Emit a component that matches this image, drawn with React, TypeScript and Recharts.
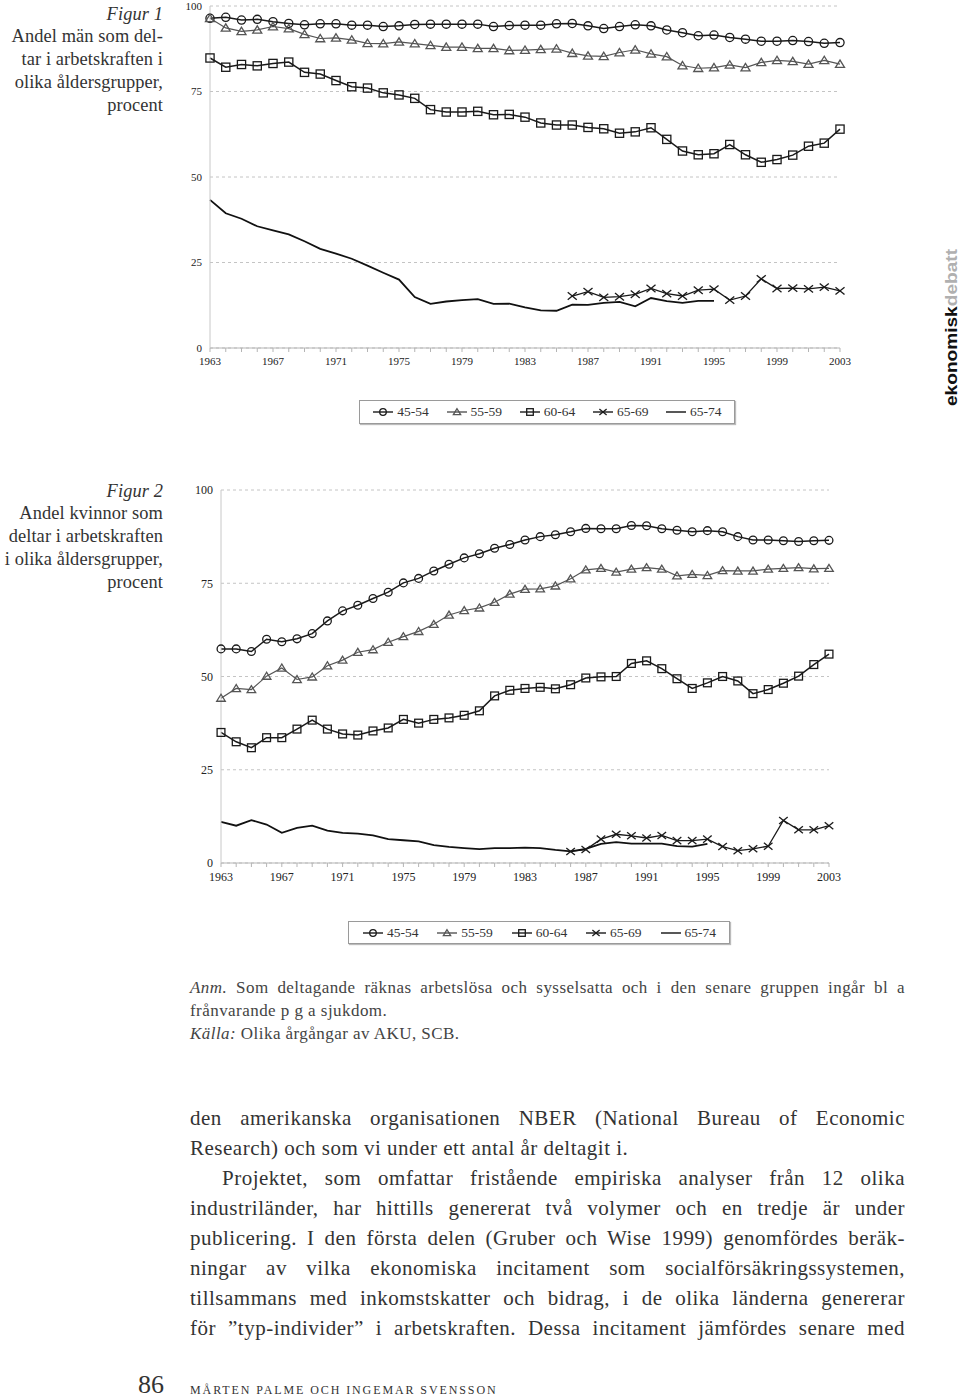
import React from 'react';
import { LineChart, Line, XAxis, YAxis, CartesianGrid } from 'recharts';

// --- data ---
const years = [
  1963, 1964, 1965, 1966, 1967, 1968, 1969, 1970, 1971, 1972, 1973, 1974, 1975, 1976,
  1977, 1978, 1979, 1980, 1981, 1982, 1983, 1984, 1985, 1986, 1987, 1988, 1989, 1990,
  1991, 1992, 1993, 1994, 1995, 1996, 1997, 1998, 1999, 2000, 2001, 2002, 2003,
];
const yearLabels = [1963, 1967, 1971, 1975, 1979, 1983, 1987, 1991, 1995, 1999, 2003];
const yTicks = [0, 25, 50, 75, 100];
const ageGroups = ['45-54', '55-59', '60-64', '65-69', '65-74'];

// Figur 1: män
const men4554 = [
  96.4, 96.7, 95.9, 96.1, 95.4, 94.9, 94.5, 94.8, 94.8, 94.4, 94.4, 94.0, 94.2, 94.6, 94.7,
  94.7, 94.7, 94.7, 94.0, 94.3, 94.4, 94.4, 94.8, 94.9, 94.2, 93.4, 94.0, 94.5, 94.2, 93.0,
  92.2, 91.3, 91.5, 90.8, 90.3, 89.7, 89.7, 89.9, 89.6, 89.1, 89.3,
];
const men5559 = [
  96.4, 93.6, 92.6, 93.0, 94.0, 93.4, 91.7, 90.5, 90.7, 90.1, 89.1, 89.0, 89.5, 89.0, 88.5,
  88.0, 88.0, 87.6, 87.6, 87.0, 87.1, 87.3, 87.5, 86.2, 85.4, 85.3, 86.4, 87.2, 86.0, 85.2,
  82.6, 81.8, 82.0, 82.8, 82.0, 83.5, 84.1, 83.8, 83.0, 84.1, 83.0,
];
const men6064 = [
  84.8, 82.1, 82.9, 82.5, 83.2, 83.6, 80.6, 80.1, 78.2, 76.4, 76.0, 74.6, 74.0, 73.0, 69.7,
  69.0, 69.0, 69.2, 68.2, 68.3, 67.5, 65.8, 65.2, 65.2, 64.5, 64.1, 62.8, 63.2, 64.4, 61.0,
  57.6, 56.5, 56.8, 59.5, 56.5, 54.3, 55.1, 56.4, 59.0, 59.9, 64.0,
];
const men6569 = [
  null, null, null, null, null, null, null, null, null, null, null, null, null, null, null,
  null, null, null, null, null, null, null, null, 15.2, 16.5, 14.8, 15.0, 15.7, 17.4, 15.9,
  15.2, 16.9, 17.2, 14.0, 15.2, 20.2, 17.4, 17.5, 17.3, 17.8, 16.7,
];
const men6574 = [
  43.3, 39.4, 37.8, 35.6, 34.4, 33.2, 31.2, 29.0, 27.6, 26.1, 24.1, 22.0, 20.0, 14.9, 12.9,
  13.6, 14.0, 14.3, 12.9, 13.0, 11.9, 11.0, 10.9, 12.7, 12.6, 13.2, 13.5, 12.2, 14.6, 13.7,
  13.2, 13.8, 13.8, null, null, null, null, null, null, null, null,
];

// Figur 2: kvinnor
const women4554 = [
  57.4, 57.4, 56.7, 60.0, 59.3, 60.1, 61.5, 64.9, 67.6, 69.1, 70.9, 72.6, 75.1, 76.3, 78.3,
  80.1, 81.8, 82.9, 84.4, 85.4, 86.6, 87.5, 88.0, 88.8, 89.7, 89.6, 89.6, 90.5, 90.4, 89.6,
  89.2, 88.8, 89.1, 88.8, 87.5, 86.6, 86.6, 86.4, 86.2, 86.4, 86.5,
];
const women5559 = [
  44.2, 46.8, 46.5, 50.1, 52.3, 49.2, 49.9, 52.9, 54.4, 56.5, 57.2, 59.2, 60.7, 62.1, 64.0,
  66.5, 67.7, 68.4, 69.9, 72.1, 73.4, 73.5, 74.3, 76.2, 78.6, 79.0, 78.0, 78.8, 79.2, 78.8,
  77.0, 77.4, 77.1, 78.4, 78.3, 78.3, 78.8, 79.0, 79.2, 78.9, 79.0,
];
const women6064 = [
  35.0, 32.5, 30.9, 33.6, 33.6, 35.9, 38.3, 35.9, 34.6, 34.3, 35.4, 36.2, 38.5, 37.5, 38.5,
  38.9, 39.6, 40.8, 44.8, 46.3, 46.8, 47.1, 46.7, 47.8, 49.6, 49.9, 50.0, 53.5, 54.2, 52.1,
  49.4, 46.8, 48.3, 50.0, 48.8, 45.4, 46.5, 48.2, 50.1, 53.2, 56.0,
];
const women6569 = [
  null, null, null, null, null, null, null, null, null, null, null, null, null, null, null,
  null, null, null, null, null, null, null, null, 3.1, 3.6, 6.4, 7.7, 7.3, 6.7, 7.4,
  6.0, 6.0, 6.4, 4.4, 3.3, 3.8, 4.5, 11.4, 8.9, 8.9, 10.0,
];
const women6574 = [
  11.0, 10.0, 11.5, 10.3, 8.1, 9.4, 10.0, 8.7, 8.1, 7.9, 7.4, 6.4, 6.1, 5.8, 4.8,
  4.3, 4.0, 3.7, 4.0, 4.0, 4.1, 4.0, 3.5, 3.1, 3.8, 5.1, 5.6, 5.2, 5.2, 5.2,
  4.5, 4.4, 5.1, null, null, null, null, null, null, null, null,
];

type Shape = 'circle' | 'triangle' | 'square' | 'cross' | 'none';

// look of each age group, same order as ageGroups
const styles: { shape: Shape; color: string; width: number }[] = [
  { shape: 'circle', color: '#1a1a1a', width: 1.5 },
  { shape: 'triangle', color: '#555', width: 1.2 },
  { shape: 'square', color: '#1a1a1a', width: 1.5 },
  { shape: 'cross', color: '#1a1a1a', width: 1.3 },
  { shape: 'none', color: '#111', width: 1.8 },
];

const serif = '"Liberation Serif", "DejaVu Serif", serif';

const Marker = ({ cx, cy, shape, s, color }: any) => {
  const sw = 1.3;
  if (shape === 'circle') return <circle cx={cx} cy={cy} r={s} fill="none" stroke={color} strokeWidth={sw} />;
  if (shape === 'square')
    return <rect x={cx - s} y={cy - s} width={2 * s} height={2 * s} fill="none" stroke={color} strokeWidth={sw} />;
  if (shape === 'triangle')
    return (
      <polygon
        points={`${cx},${cy - s} ${cx - s * 1.1},${cy + s * 0.8} ${cx + s * 1.1},${cy + s * 0.8}`}
        fill="none"
        stroke={color}
        strokeWidth={sw}
      />
    );
  if (shape === 'cross')
    return (
      <g stroke={color} strokeWidth={sw}>
        <line x1={cx - s * 1.1} y1={cy - s * 0.9} x2={cx + s * 1.1} y2={cy + s * 0.9} />
        <line x1={cx - s * 1.1} y1={cy + s * 0.9} x2={cx + s * 1.1} y2={cy - s * 0.9} />
      </g>
    );
  return null;
};

const makeDot = (key: string, shape: Shape, s: number, color: string) => (p: any) => {
  const k = `${key}-${p.index}`;
  if (shape === 'none' || p.value == null || p.cy == null || isNaN(p.cy)) return <g key={k} />;
  return (
    <g key={k}>
      <Marker cx={p.cx} cy={p.cy} shape={shape} s={s} color={color} />
    </g>
  );
};

const YearTick = ({ x, y, payload, fontSize }: any) => {
  if (!yearLabels.includes(payload.value)) return <g />;
  return (
    <text x={x} y={y + 3} dy="0.71em" textAnchor="middle" fontFamily={serif} fontSize={fontSize} fill="#222">
      {payload.value}
    </text>
  );
};

const Chart = ({ series, width, height, margin, yWidth, xHeight, markerSize, fontSize }: any) => {
  const data = years.map((year, i) => {
    const row: any = { year };
    series.forEach((arr: (number | null)[], j: number) => {
      row['s' + j] = arr[i];
    });
    return row;
  });
  return (
    <LineChart width={width} height={height} data={data} margin={margin}>
      <CartesianGrid vertical={false} stroke="#c4c4c4" strokeDasharray="3 3" />
      <XAxis
        dataKey="year"
        type="number"
        domain={[1963, 2003]}
        ticks={years}
        interval={0}
        height={xHeight}
        stroke="#b5b5b5"
        tickSize={4}
        tick={<YearTick fontSize={fontSize} />}
      />
      <YAxis
        domain={[0, 100]}
        ticks={yTicks}
        width={yWidth}
        stroke="#c8c8c8"
        tickLine={false}
        tick={{ fontFamily: serif, fontSize, fill: '#222' }}
      />
      {series.map((_: any, j: number) => (
        <Line
          key={ageGroups[j]}
          name={ageGroups[j]}
          type="linear"
          dataKey={'s' + j}
          stroke={styles[j].color}
          strokeWidth={styles[j].width}
          dot={makeDot('d' + j, styles[j].shape, markerSize, styles[j].color)}
          activeDot={false}
          connectNulls={false}
          isAnimationActive={false}
        />
      ))}
    </LineChart>
  );
};

const LegendBox = ({ left, top, width, height }: any) => (
  <div
    style={{
      position: 'absolute',
      left,
      top,
      width,
      height,
      boxSizing: 'border-box',
      border: '1px solid #9a9a9a',
      boxShadow: '1px 1px 1px #bbb',
      display: 'flex',
      justifyContent: 'space-around',
      alignItems: 'center',
      fontFamily: serif,
      fontSize: 13.5,
      color: '#333',
      padding: '0 4px',
    }}
  >
    {ageGroups.map((g, j) => (
      <span key={g} style={{ display: 'flex', alignItems: 'center' }}>
        <svg width={22} height={12} style={{ marginRight: 3 }}>
          <line x1={1} y1={6} x2={21} y2={6} stroke={styles[j].color} strokeWidth={1.4} />
          <Marker cx={11} cy={6} shape={styles[j].shape} s={3.3} color={styles[j].color} />
        </svg>
        {g}
      </span>
    ))}
  </div>
);

const Caption = ({ top, lines }: { top: number; lines: string[] }) => (
  <div
    style={{
      position: 'absolute',
      left: 0,
      top,
      width: 163,
      textAlign: 'right',
      fontFamily: serif,
      fontSize: 18.4,
      letterSpacing: 0.1,
      lineHeight: '22.75px',
      color: '#333',
    }}
  >
    {lines.map((l, i) => (
      <div key={i} style={{ fontStyle: i === 0 ? 'italic' : 'normal', whiteSpace: 'nowrap' }}>
        {l}
      </div>
    ))}
  </div>
);

const bodyLines: { t: string; justify: boolean; indent?: number }[] = [
  { t: 'den amerikanska organisationen NBER (National Bureau of Economic', justify: true },
  { t: 'Research) och som vi under ett antal år deltagit i.', justify: false },
  { t: 'Projektet, som omfattar fristående empiriska analyser från 12 olika', justify: true, indent: 32 },
  { t: 'industriländer, har hittills genererat två volymer och en tredje är under', justify: true },
  { t: 'publicering. I den första delen (Gruber och Wise 1999) genomfördes beräk-', justify: true },
  { t: 'ningar av vilka ekonomiska incitament som socialförsäkringssystemen,', justify: true },
  { t: 'tillsammans med inkomstskatter och bidrag, i de olika länderna genererar', justify: true },
  { t: 'för ”typ-individer” i arbetskraften. Dessa incitament jämfördes senare med', justify: true },
];

export default function App() {
  return (
    <div style={{ position: 'absolute', left: 0, top: 0, width: 960, height: 1398, background: '#fff', overflow: 'hidden' }}>
      <Caption top={2.5} lines={['Figur 1', 'Andel män som del-', 'tar i arbetskraften i', 'olika åldersgrupper,', 'procent']} />
      <Caption top={479.5} lines={['Figur 2', 'Andel kvinnor som', 'deltar i arbetskraften', 'i olika åldersgrupper,', 'procent']} />

      <div style={{ position: 'absolute', left: 0, top: 0 }}>
        <Chart
          series={[men4554, men5559, men6064, men6569, men6574]}
          width={900}
          height={380}
          margin={{ top: 6, right: 60, bottom: 10, left: 180 }}
          yWidth={30}
          xHeight={22}
          markerSize={4.1}
          fontSize={11}
        />
      </div>
      <LegendBox left={359} top={400} width={376} height={24} />

      <div style={{ position: 'absolute', left: 0, top: 470 }}>
        <Chart
          series={[women4554, women5559, women6064, women6569, women6574]}
          width={900}
          height={420}
          margin={{ top: 20, right: 71, bottom: 7, left: 181 }}
          yWidth={40}
          xHeight={20}
          markerSize={3.9}
          fontSize={12}
        />
      </div>
      <LegendBox left={348} top={921} width={382} height={23} />

      <svg width={24} height={170} style={{ position: 'absolute', left: 936, top: 242 }}>
        <text
          transform="translate(21,164) rotate(-90)"
          fontFamily='"Liberation Sans", Arial, sans-serif'
          fontWeight="bold"
          fontSize={17}
          textLength={157}
          lengthAdjust="spacingAndGlyphs"
        >
          <tspan fill="#111">ekonomisk</tspan>
          <tspan fill="#b0b0b0">debatt</tspan>
        </text>
      </svg>

      <div
        style={{
          position: 'absolute',
          left: 190,
          top: 975.5,
          width: 715,
          fontFamily: serif,
          fontSize: 17,
          letterSpacing: 0.45,
          lineHeight: '23px',
          color: '#444',
        }}
      >
        <div style={{ textAlign: 'justify', textAlignLast: 'justify', whiteSpace: 'nowrap' }}>
          <i>Anm.</i> Som deltagande räknas arbetslösa och sysselsatta och i den senare gruppen ingår bl a
        </div>
        <div>frånvarande p g a sjukdom.</div>
        <div>
          <i>Källa:</i> Olika årgångar av AKU, SCB.
        </div>
      </div>

      <div
        style={{
          position: 'absolute',
          left: 190,
          top: 1103,
          width: 715,
          fontFamily: serif,
          fontSize: 21,
          letterSpacing: 0.5,
          lineHeight: '30px',
          color: '#333',
        }}
      >
        {bodyLines.map((l, i) => (
          <div
            key={i}
            style={{
              textAlign: 'justify',
              textAlignLast: l.justify ? 'justify' : 'left',
              textIndent: l.indent || 0,
              whiteSpace: 'nowrap',
            }}
          >
            {l.t}
          </div>
        ))}
      </div>

      <div style={{ position: 'absolute', left: 120, top: 1370, width: 44, textAlign: 'right', fontFamily: serif, fontSize: 26, lineHeight: '30px', color: '#333' }}>
        86
      </div>
      <div style={{ position: 'absolute', left: 190, top: 1382, fontFamily: serif, fontSize: 12, letterSpacing: 1.9, lineHeight: '16px', color: '#333' }}>
        MÅRTEN PALME OCH INGEMAR SVENSSON
      </div>
    </div>
  );
}
